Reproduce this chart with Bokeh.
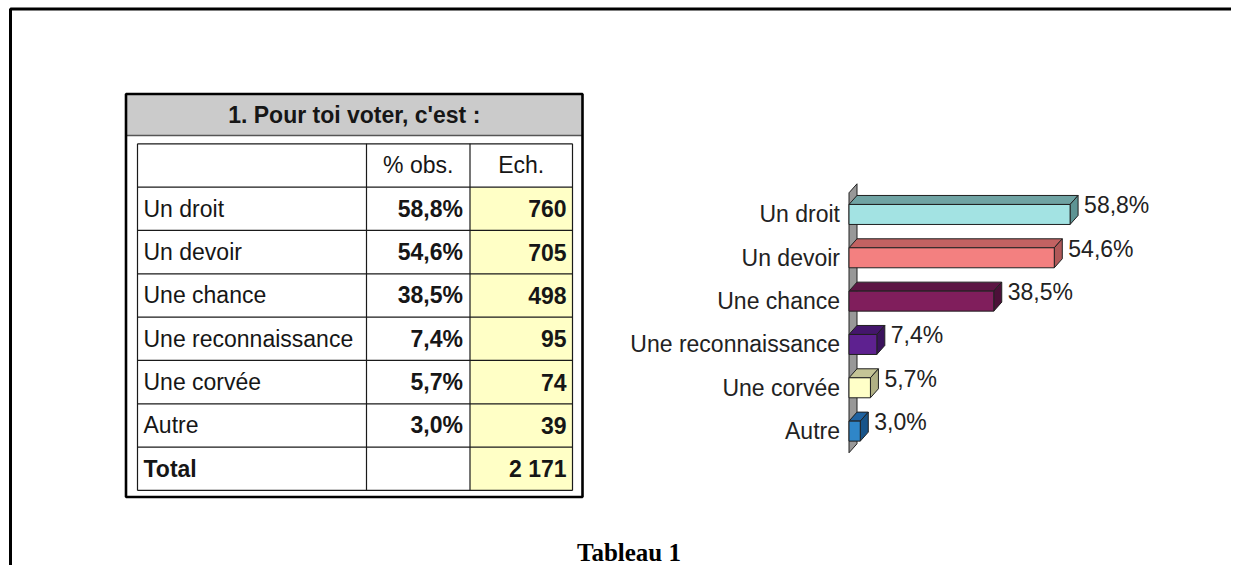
from bokeh.plotting import figure
from bokeh.models import Range1d
from bokeh.embed import file_html
from bokeh.resources import INLINE
from bokeh.core.properties import value

# ---------------- data ----------------
title = "1. Pour toi voter, c'est :"
caption = "Tableau 1"
col_headers = ["% obs.", "Ech."]
categories = ["Un droit", "Un devoir", "Une chance", "Une reconnaissance", "Une corvée", "Autre"]
pct_values = [58.8, 54.6, 38.5, 7.4, 5.7, 3.0]
counts = [760, 705, 498, 95, 74, 39]
total_label = "Total"
total_count = 2171

front_colors = ["#A3E3E3", "#F38080", "#801E5C", "#5E2190", "#FFFFC8", "#2F86C8"]
top_colors = ["#6FA3A3", "#C26262", "#5C1644", "#44166C", "#C4C496", "#1F62A0"]
side_colors = ["#5E9494", "#B05858", "#4C1038", "#3A125C", "#B0B084", "#185489"]


def fr_pct(v):
    return f"{v:.1f}".replace(".", ",") + "%"


def fr_int(n):
    return f"{n:,}".replace(",", " ")


# ---------------- layout (page px) ----------------
W, H = 1231, 565

FONT = value("Liberation Sans")
FS = value("23px")
INK = "#161616"

p = figure(width=W, height=H, x_range=Range1d(0, W), y_range=Range1d(H, 0),
           output_backend="svg", toolbar_location=None, min_border=0,
           x_axis_location=None, y_axis_location=None)
p.xgrid.visible = False
p.ygrid.visible = False
p.outline_line_color = None
p.background_fill_color = "white"
p.border_fill_color = "white"

# page frame (only its top and left sides fall inside the page)
p.quad(left=[10], right=[W + 40], top=[8.5], bottom=[H + 40],
       fill_color=None, line_color="black", line_width=3)

# ---------------- table ----------------
T_L, T_R, T_T, T_B = 125.5, 582, 93.5, 496.5
HEAD_B = 135
G_L, G_R, G_T = 137, 572, 143.3
ROW_H = 43.33
C1, C2 = 366, 469.5
n_rows = len(categories) + 2
G_B = G_T + n_rows * ROW_H

p.quad(left=[T_L], right=[T_R], top=[T_T], bottom=[HEAD_B],
       fill_color="#CBCBCB", line_color=None)
p.segment(x0=[T_L], y0=[HEAD_B], x1=[T_R], y1=[HEAD_B], line_color="#555555", line_width=1.5)
# yellow count cells
p.quad(left=[C2], right=[G_R], top=[G_T + ROW_H], bottom=[G_B],
       fill_color="#FFFFC6", line_color=None)
# grid
hx0, hy0, hx1, hy1 = [], [], [], []
for r in range(n_rows + 1):
    yy = G_T + r * ROW_H
    hx0.append(G_L); hx1.append(G_R); hy0.append(yy); hy1.append(yy)
for xx in (G_L, C1, C2, G_R):
    hx0.append(xx); hx1.append(xx); hy0.append(G_T); hy1.append(G_B)
p.segment(x0=hx0, y0=hy0, x1=hx1, y1=hy1, line_color="#1a1a1a", line_width=1.2)
# outer thick box
p.quad(left=[T_L], right=[T_R], top=[T_T], bottom=[T_B],
       fill_color=None, line_color="black", line_width=2.6)

# title
p.text(x=[(T_L + T_R) / 2], y=[(T_T + HEAD_B) / 2 + 0.5], text=[title],
       text_font=FONT, text_font_size=FS, text_font_style="bold", text_color=INK,
       text_align="center", text_baseline="middle")
# column headers
hy = G_T + ROW_H / 2
p.text(x=[(C1 + C2) / 2, (C2 + G_R) / 2], y=[hy, hy], text=col_headers,
       text_font=FONT, text_font_size=FS, text_color=INK,
       text_align="center", text_baseline="middle")
# rows
row_y = [G_T + ROW_H * (i + 1.5) for i in range(len(categories) + 1)]
p.text(x=[G_L + 6] * len(categories), y=row_y[:-1], text=categories,
       text_font=FONT, text_font_size=FS, text_color=INK,
       text_align="left", text_baseline="middle")
p.text(x=[C2 - 7] * len(categories), y=row_y[:-1], text=[fr_pct(v) for v in pct_values],
       text_font=FONT, text_font_size=FS, text_font_style="bold", text_color=INK,
       text_align="right", text_baseline="middle")
p.text(x=[G_R - 6] * (len(categories) + 1), y=row_y,
       text=[fr_int(c) for c in counts] + [fr_int(total_count)],
       text_font=FONT, text_font_size=FS, text_font_style="bold", text_color=INK,
       text_align="right", text_baseline="middle")
p.text(x=[G_L + 6], y=[row_y[-1]], text=[total_label],
       text_font=FONT, text_font_size=FS, text_font_style="bold", text_color=INK,
       text_align="left", text_baseline="middle")

# ---------------- 3D bar chart (own ranges) ----------------
PX_PER_PCT = 3.76
ZERO_X = 848.5
BAND = 43.33
BAND_TOP = 192.3
idx_at = lambda fy: -0.5 + (fy - BAND_TOP) / BAND
p.extra_x_ranges = {"pct": Range1d(start=-ZERO_X / PX_PER_PCT, end=(W - ZERO_X) / PX_PER_PCT)}
p.extra_y_ranges = {"cat": Range1d(start=idx_at(H), end=idx_at(0))}

DX = 8 / PX_PER_PCT
DY = 9 / BAND
HALF = 10 / BAND
n = len(categories)
ypos = list(range(n))

# back wall
p.patch(x=[0, DX, DX, 0], y=[-0.5, -0.5 - DY, n - 0.5 - DY, n - 0.5],
        fill_color="#989898", line_color="#222222", line_width=1,
        x_range_name="pct", y_range_name="cat")

top_xs, top_ys, side_xs, side_ys = [], [], [], []
for v, i in zip(pct_values, ypos):
    top_xs.append([0, v, v + DX, DX])
    top_ys.append([i - HALF, i - HALF, i - HALF - DY, i - HALF - DY])
    side_xs.append([v, v + DX, v + DX, v])
    side_ys.append([i - HALF, i - HALF - DY, i + HALF - DY, i + HALF])
p.patches(xs=top_xs, ys=top_ys, fill_color=top_colors, line_color="#202020", line_width=1,
          x_range_name="pct", y_range_name="cat")
p.patches(xs=side_xs, ys=side_ys, fill_color=side_colors, line_color="#202020", line_width=1,
          x_range_name="pct", y_range_name="cat")
p.quad(left=[0] * n, right=pct_values, top=[i - HALF for i in ypos], bottom=[i + HALF for i in ypos],
       fill_color=front_colors, line_color="#202020", line_width=1,
       x_range_name="pct", y_range_name="cat")

p.text(x=[0] * n, y=ypos, text=categories, x_offset=-9,
       text_font=FONT, text_font_size=FS, text_color="#222222",
       text_align="right", text_baseline="middle",
       x_range_name="pct", y_range_name="cat")
p.text(x=[v + DX for v in pct_values], y=[i - DY for i in ypos], text=[fr_pct(v) for v in pct_values],
       x_offset=6, text_font=FONT, text_font_size=FS, text_color="#222222",
       text_align="left", text_baseline="middle",
       x_range_name="pct", y_range_name="cat")

# caption
p.text(x=[628.5], y=[552], text=[caption], text_font=value("Liberation Serif"),
       text_font_size=value("25px"), text_font_style="bold", text_color="black",
       text_align="center", text_baseline="middle")

open("out.html", "w").write(file_html(p, INLINE))
